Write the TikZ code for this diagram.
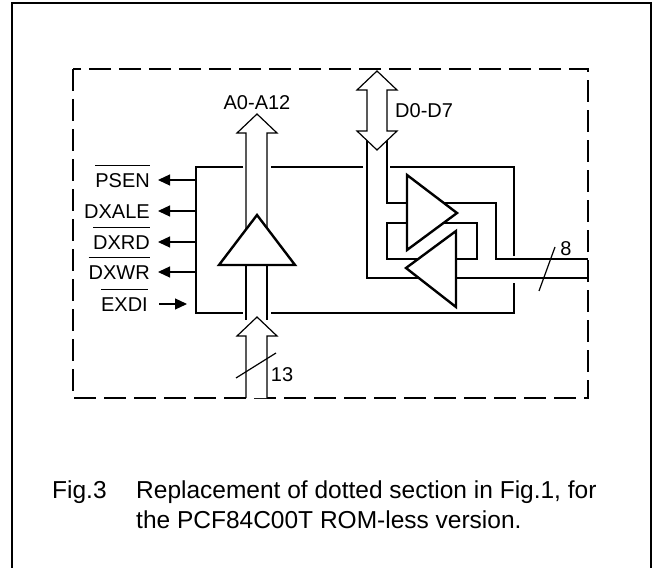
\documentclass[tikz,border=0pt]{standalone}
\usepackage{fontspec}
\setmainfont{Liberation Sans}
\usetikzlibrary{arrows.meta}

\newcommand\barsig[1]{\setbox0\hbox{#1}\rlap{\rule[21pt]{\wd0}{1.2pt}}\box0}

\begin{document}
\begin{tikzpicture}[x=1pt, y=-1pt,
    wire/.style={line width=1.2pt},
    heavy/.style={line width=2.4pt},
    frame/.style={line width=1.4pt},
    cut/.style={line width=1.3pt, dash pattern=on 22pt off 8pt},
    lbl/.style={font=\fontsize{20}{24}\selectfont, inner sep=0pt, text height=14.3pt, text depth=0pt},
    capt/.style={font=\fontsize{24.5}{29}\selectfont, inner sep=0pt},
    sig/.style={wire, shorten >=8pt, -{Triangle[length=12pt,width=11pt]}},
    buf/.style={heavy, fill=white, line join=miter},
    bus/.style={wire, fill=white, line join=miter}]

    \useasboundingbox (0,0) rectangle (655,567);

    \draw [frame] (12,570) -- (12,3) -- (651,3) -- (651,570);
    \draw [cut] (73,69) rectangle (588,398);

    % chip outline, open where the buses pass
    \coordinate (boxnw) at (196,167);
    \coordinate (boxse) at (514,313);
    \draw [heavy] (243,167) -- (boxnw) -- (196,313) -- (243,313)
                  (271,313) -- (boxse) -- (514,283)
                  (514,256) -- (514,167) -- (390,167)
                  (363,167) -- (271,167);

    % address bus
    \draw [bus] (246,240) -- (246,133) -- (237,133) -- (257,114) -- (277,133) -- (267,133) -- (267,240);
    \draw [wire] (246,255) -- (246,320) (267,255) -- (267,320);
    \draw [bus] (246,398) -- (246,336) -- (237,336) -- (257,317) -- (277,336) -- (267,336) -- (267,398);
    \draw [buf] (257,215) -- (295,265) -- (219,265) -- cycle;
    \node (alabel) [lbl] at (257,102) {A0-A12};
    \draw [wire] (236,378) -- (276,353);
    \node (awidth) [lbl] at (282,374) {13};

    % data bus
    \draw [wire] (387,131) -- (387,203) -- (496,203) -- (496,259) -- (588,259);
    \draw [wire] (367,131) -- (367,278) -- (588,278);
    \draw [wire] (387,223) rectangle (477,259);
    \draw [bus] (377,71) -- (397,90) -- (387,90) -- (387,131) -- (397,131) -- (377,150)
                -- (357,131) -- (367,131) -- (367,90) -- (357,90) -- cycle;
    \draw [buf] (407,175) -- (457,213) -- (407,250) -- cycle;
    \draw [buf] (456,231) -- (406,268) -- (456,307) -- cycle;
    \node (dlabel) [lbl, anchor=west] at (395,110) {D0-D7};
    \draw [wire] (539,291) -- (555,247);
    \node (dwidth) [lbl] at (566,248) {8};

    % control lines
    \node (psen) [lbl, anchor=east] at (150,180) {\barsig{PSEN}};
    \node (dxale) [lbl, anchor=east] at (150,211) {DXALE};
    \node (dxrd) [lbl, anchor=east] at (150,242) {\barsig{DXRD}};
    \node (dxwr) [lbl, anchor=east] at (150,272) {\barsig{DXWR}};
    \node (exdi) [lbl, anchor=east] at (148,304) {\barsig{EXDI}};
    \draw [sig] (psen -| boxnw) -- (psen.east);
    \draw [sig] (dxale -| boxnw) -- (dxale.east);
    \draw [sig] (dxrd -| boxnw) -- (dxrd.east);
    \draw [sig] (dxwr -| boxnw) -- (dxwr.east);
    \draw [sig, shorten <=11pt, shorten >=9pt] (exdi.east) -- (exdi -| boxnw);

    \node (fig) [capt, anchor=base west] at (52,498) {Fig.3};
    \node (capa) [capt, anchor=base west] at (136,498) {Replacement of dotted section in Fig.1, for};
    \node (capb) [capt, anchor=base west] at (136,528) {the PCF84C00T ROM-less version.};

\end{tikzpicture}
\end{document}
